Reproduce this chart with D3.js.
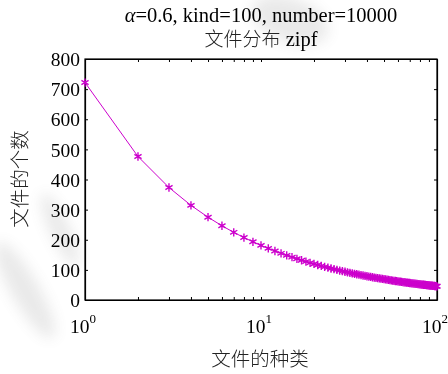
<!DOCTYPE html>
<html>
<head>
<meta charset="utf-8">
<script src="https://cdn.jsdelivr.net/npm/d3@7"></script>
<style>
  html, body { margin: 0; padding: 0; background: #fff; }
  svg { display: block; }
</style>
</head>
<body>
<svg id="chart" width="448" height="374"></svg>
<script>
// File ranks 1..100 and the number of files per rank (Zipf, alpha = 0.6)
const ranks = d3.range(1, 101);
const fileCounts = [
  721.9, 476.3, 373.4, 314.2, 274.8, 246.4, 224.6, 207.3, 193.2, 181.3,
  171.3, 162.6, 154.9, 148.2, 142.1, 136.8, 131.9, 127.5, 123.4, 119.6,
  116.2, 113.0, 110.0, 107.3, 104.6, 102.2, 99.9, 97.8, 95.7, 93.8,
  92.0, 90.2, 88.6, 87.0, 85.5, 84.1, 82.7, 81.4, 80.1, 78.9,
  77.8, 76.7, 75.6, 74.6, 73.6, 72.6, 71.7, 70.8, 69.9, 69.0,
  68.2, 67.4, 66.7, 65.9, 65.2, 64.5, 63.8, 63.1, 62.5, 61.9,
  61.3, 60.7, 60.1, 59.5, 59.0, 58.5, 57.9, 57.4, 56.9, 56.4,
  55.9, 55.5, 55.0, 54.6, 54.1, 53.7, 53.3, 52.8, 52.5, 52.1,
  51.7, 51.3, 50.9, 50.6, 50.2, 49.9, 49.5, 49.2, 48.9, 48.6,
  48.2, 47.9, 47.6, 47.3, 47.0, 46.7, 46.4, 46.1, 45.8, 45.5
];
const yTicks = [0, 100, 200, 300, 400, 500, 600, 700, 800];
const xMajor = [1, 10, 100];
const xMinor = [2, 3, 4, 5, 6, 7, 8, 9, 20, 30, 40, 50, 60, 70, 80, 90];
const titleLine1 = "=0.6, kind=100, number=10000";
const titleLine2 = "文件分布";
const titleLine2Latin = " zipf";
const xLabel = "文件的种类";
const yLabel = "文件的个数";

const svg = d3.select("#chart");
const plotL = 85, plotR = 437, plotT = 59, plotB = 300;
const serif = "'Liberation Serif', 'DejaVu Serif', serif";
const cjk = "'Noto Sans CJK SC', sans-serif";
const color = "#cc00cc";

// faint grey swirl in the page background
const defs = svg.append("defs");
defs.append("filter").attr("id", "soft").attr("x", "-50%").attr("y", "-50%")
  .attr("width", "200%").attr("height", "200%")
  .append("feGaussianBlur").attr("stdDeviation", 7);
const bg = svg.append("g").attr("filter", "url(#soft)").attr("opacity", 0.14);
bg.append("ellipse").attr("cx", 290).attr("cy", 20).attr("rx", 40).attr("ry", 22)
  .attr("fill", "#666").attr("transform", "rotate(20 290 20)");
bg.append("ellipse").attr("cx", 25).attr("cy", 290).attr("rx", 14).attr("ry", 55)
  .attr("fill", "#666").attr("transform", "rotate(-30 25 290)");
bg.append("ellipse").attr("cx", 60).attr("cy", 230).attr("rx", 10).attr("ry", 40)
  .attr("fill", "#666").attr("transform", "rotate(-25 60 230)");

const x = d3.scaleLog().domain([1, 100]).range([plotL, plotR]);
const y = d3.scaleLinear().domain([0, 800]).range([plotB, plotT]);

// y axes (left with labels, right mirrored), ticks pointing inward
const yAxisL = d3.axisLeft(y).tickValues(yTicks).tickSizeInner(-3).tickSizeOuter(0).tickPadding(5);
const gL = svg.append("g").attr("transform", `translate(${plotL},0)`).call(yAxisL);
gL.selectAll("text").attr("font-family", serif).attr("font-size", 19.5).attr("fill", "#000")
  .attr("x", -5).attr("dy", "0.34em");

const yAxisR = d3.axisRight(y).tickValues(yTicks).tickSizeInner(-3).tickSizeOuter(0).tickFormat("");
svg.append("g").attr("transform", `translate(${plotR},0)`).call(yAxisR);

// x axes: major and minor log ticks on bottom and top
const xAxisB = d3.axisBottom(x).tickValues(xMajor.concat(xMinor)).tickSizeInner(-3).tickSizeOuter(0).tickFormat("");
svg.append("g").attr("transform", `translate(0,${plotB})`).call(xAxisB);
const xAxisT = d3.axisTop(x).tickValues(xMajor.concat(xMinor)).tickSizeInner(-3).tickSizeOuter(0).tickFormat("");
svg.append("g").attr("transform", `translate(0,${plotT})`).call(xAxisT);

svg.selectAll(".domain").attr("stroke", "#000").attr("stroke-width", 1.2);
svg.selectAll(".tick line").attr("stroke", "#000");

// x tick labels as 10^k
xMajor.forEach(v => {
  const t = svg.append("text").attr("x", x(v) - 2).attr("y", 333)
    .attr("text-anchor", "middle").attr("font-family", serif).attr("font-size", 19.5);
  t.append("tspan").text("10");
  t.append("tspan").attr("dy", -10).attr("font-size", 13).text(Math.round(Math.log10(v)));
});

// plot frame
svg.append("rect").attr("x", plotL).attr("y", plotT).attr("width", plotR - plotL).attr("height", plotB - plotT)
  .attr("fill", "none").attr("stroke", "#000").attr("stroke-width", 1.2);

// series line
const pts = ranks.map((r, i) => [r, fileCounts[i]]);
svg.append("path").datum(pts)
  .attr("fill", "none").attr("stroke", color).attr("stroke-width", 1)
  .attr("d", d3.line().x(d => x(d[0])).y(d => y(d[1])));

// asterisk markers
const star = d3.symbol().type(d3.symbolAsterisk).size(48);
svg.append("g").selectAll("path.m").data(pts).join("path")
  .attr("class", "m")
  .attr("transform", d => `translate(${x(d[0])},${y(d[1])})`)
  .attr("d", star)
  .attr("fill", "none").attr("stroke", color).attr("stroke-width", 1.4);

// titles
const cx = (plotL + plotR) / 2;
const t1 = svg.append("text").attr("x", cx).attr("y", 22).attr("text-anchor", "middle")
  .attr("font-family", serif).attr("font-size", 20.5);
t1.append("tspan").attr("font-style", "italic").text("α");
t1.append("tspan").text(titleLine1);
const t2 = svg.append("text").attr("x", cx).attr("y", 46).attr("text-anchor", "middle")
  .attr("fill", "#222").attr("font-size", 19);
t2.append("tspan").attr("font-family", cjk).attr("font-weight", 300).text(titleLine2);
t2.append("tspan").attr("font-family", serif).attr("font-size", 20.5).attr("fill", "#000")
  .style("white-space", "pre").text(titleLine2Latin);

// axis titles
svg.append("text").attr("x", 260).attr("y", 366).attr("text-anchor", "middle")
  .attr("font-family", cjk).attr("font-weight", 300).attr("fill", "#222")
  .attr("font-size", 19.5).text(xLabel);
svg.append("text").attr("transform", `translate(27,179) rotate(-90)`).attr("text-anchor", "middle")
  .attr("font-family", cjk).attr("font-weight", 300).attr("fill", "#222")
  .attr("font-size", 19.5).text(yLabel);
</script>
</body>
</html>
